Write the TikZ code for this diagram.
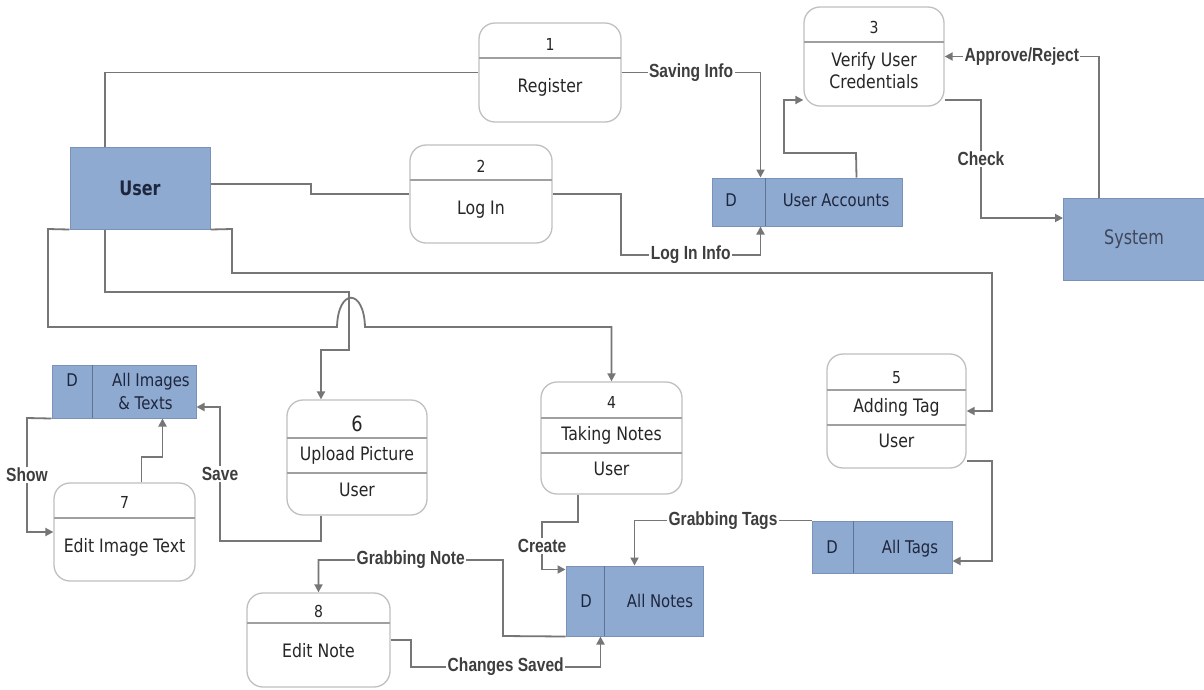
\documentclass[tikz,border=0pt]{standalone}
\usepackage{fontspec}
\usetikzlibrary{arrows.meta}
\newfontfamily\boxfont[FakeStretch=0.85]{DejaVu Sans}
\newfontfamily\entfont[FakeStretch=0.8]{DejaVu Sans}
\newfontfamily\lblfont[FakeStretch=0.82]{Liberation Sans}

\definecolor{storefill}{RGB}{143,170,208}
\definecolor{storeline}{RGB}{122,146,186}
\definecolor{storediv}{RGB}{95,115,150}
\definecolor{flowgray}{RGB}{118,118,118}
\definecolor{procline}{RGB}{192,192,192}
\definecolor{divgray}{RGB}{160,160,160}
\definecolor{txt}{RGB}{38,38,38}
\definecolor{lbltxt}{RGB}{62,62,62}
\definecolor{storetxt}{RGB}{30,38,62}

\tikzset{
  proc/.style={draw=procline, line width=1.3pt, fill=white, rounded corners=16pt, inner sep=0pt},
  store/.style={draw=storeline, line width=1pt, fill=storefill, inner sep=0pt},
  pdiv/.style={draw=divgray, line width=1.3pt},
  sdiv/.style={draw=storediv, line width=0.8pt},
  ptxt/.style={font=\boxfont\fontsize{18.5}{21}\selectfont, text=txt, inner sep=0pt, text height=13.5pt, text depth=4pt},
  pnum/.style={font=\boxfont\fontsize{16.5}{19}\selectfont, text=txt, inner sep=0pt, text height=12pt, text depth=0pt},
  stxt/.style={font=\boxfont\fontsize{17.5}{20}\selectfont, text=storetxt, inner sep=0pt, text height=12.5pt, text depth=3.5pt},
  lbl/.style={font=\lblfont\bfseries\fontsize{19}{21}\selectfont, text=lbltxt, fill=white, inner sep=1.5pt},
  conn/.style={draw=flowgray, line width=1.8pt},
  flow/.style={conn, -{Triangle[length=8pt,width=8pt]}},
}

\begin{document}
\begin{tikzpicture}[x=1pt, y=-1pt]
\useasboundingbox (0,0) rectangle (1204,689);
\fill[white] (0,0) rectangle (1204,689);

% external entities
\node[store, minimum width=140pt, minimum height=82pt,
      font=\entfont\bfseries\fontsize{20}{22}\selectfont, text=storetxt] (user) at (140,188) {User};
\node[store, minimum width=141pt, minimum height=82pt,
      font=\entfont\fontsize{20}{22}\selectfont, text=storetxt!85!white] (sys) at (1134,239) {System};

% processes
\node[proc, minimum width=142pt, minimum height=99pt] (p1) at (550,72.5) {};
\draw[pdiv] (479,58) -- (621,58);
\node[pnum] (p1n) at (550,44) {1};
\node[ptxt] (p1t) at (550,88) {Register};

\node[proc, minimum width=142pt, minimum height=98pt] (p2) at (481,194) {};
\draw[pdiv] (410,180) -- (552,180);
\node[pnum] (p2n) at (481,166) {2};
\node[ptxt] (p2t) at (481,210) {Log In};

\node[proc, minimum width=140pt, minimum height=99pt] (p3) at (874,56.5) {};
\draw[pdiv] (804,42) -- (944,42);
\node[pnum] (p3n) at (874,27) {3};
\node[ptxt] (p3t) at (874,62) {Verify User};
\node[ptxt] (p3u) at (874,84) {Credentials};

\node[proc, minimum width=141pt, minimum height=112pt] (p4) at (611.5,438) {};
\draw[pdiv] (541,418) -- (682,418);
\draw[pdiv] (541,453) -- (682,453);
\node[pnum] (p4n) at (611.5,402) {4};
\node[ptxt] (p4t) at (611.5,436) {Taking Notes};
\node[ptxt] (p4u) at (611.5,471) {User};

\node[proc, minimum width=139pt, minimum height=114pt] (p5) at (896.5,411) {};
\draw[pdiv] (827,390) -- (966,390);
\draw[pdiv] (827,425) -- (966,425);
\node[pnum] (p5n) at (896.5,377) {5};
\node[ptxt] (p5t) at (896.5,408) {Adding Tag};
\node[ptxt] (p5u) at (896.5,443) {User};

\node[proc, minimum width=140pt, minimum height=115pt] (p6) at (357,457.5) {};
\draw[pdiv] (287,438) -- (427,438);
\draw[pdiv] (287,473) -- (427,473);
\node[pnum, font=\boxfont\fontsize{21}{23}\selectfont, text height=15pt] (p6n) at (357,424) {6};
\node[ptxt] (p6t) at (357,456) {Upload Picture};
\node[ptxt] (p6u) at (357,492) {User};

\node[proc, minimum width=141pt, minimum height=98pt] (p7) at (124.5,532) {};
\draw[pdiv] (54,518) -- (195,518);
\node[pnum] (p7n) at (124.5,502) {7};
\node[ptxt] (p7t) at (124.5,548) {Edit Image Text};

\node[proc, minimum width=143pt, minimum height=94pt] (p8) at (318.5,640) {};
\draw[pdiv] (247,623) -- (390,623);
\node[pnum] (p8n) at (318.5,611) {8};
\node[ptxt] (p8t) at (318.5,653) {Edit Note};

% data stores
\node[store, minimum width=190pt, minimum height=48pt] (ua) at (807,202) {};
\draw[sdiv] (765,178) -- (765,226);
\node[stxt] (uad) at (731,202) {D};
\node[stxt] (uat) at (836,202) {User Accounts};

\node[store, minimum width=144pt, minimum height=53pt] (ai) at (124,391.5) {};
\draw[sdiv] (92,365) -- (92,418);
\node[stxt] (aid) at (72,382) {D};
\node[stxt] (ait) at (151,382) {All Images};
\node[stxt] (aiu) at (145.5,405) {\& Texts};

\node[store, minimum width=137pt, minimum height=70pt] (an) at (634.5,601) {};
\draw[sdiv] (604,566) -- (604,636);
\node[stxt] (and) at (586,603) {D};
\node[stxt] (ant) at (660,603) {All Notes};

\node[store, minimum width=140pt, minimum height=52pt] (at) at (882,547) {};
\draw[sdiv] (853,521) -- (853,573);
\node[stxt] (atd) at (832,549) {D};
\node[stxt] (att) at (910,549) {All Tags};

% flows
\draw[conn] ([xshift=-35pt]user.north) |- (p1.west);
\draw[conn] ([yshift=4pt]user.east) -- (311,184) |- (p2.west);

\draw[flow] (p1.east) -| node[lbl, pos=0.25] {Saving Info} ([xshift=49pt]ua.north west);
\draw[flow] (p2.east) -| (621,255) -| node[lbl, pos=0.25] {Log In Info} ([xshift=49pt]ua.south west);

\draw[flow] ([xshift=-46pt]ua.north east) -- (856,153) -- (784,153) |- ([yshift=-43.5pt]p3.west);
\draw[flow] ([yshift=-43.5pt]p3.east) -- (981,100) -- node[lbl] {Check} (981,218) -- ([yshift=21pt]sys.west);
\draw[flow] ([xshift=-35pt]sys.north) |- node[lbl, pos=0.75] {Approve/Reject} (p3.east);

% flows leaving the bottom of the user entity
\draw[flow] ([xshift=-35pt]user.south) -- (105,292) -- (349,292) -- (349,350) -| ([xshift=-36pt]p6.north);
\draw[flow] (user.south west) -- (48,229) -- (48,327) -- (337,327)
  .. controls (338,288) and (364,288) .. (365,327) -| (p4.north);
\draw[flow] (user.south east) -- (232,229) -- (232,273) -- (992,273) |- (p5.east);

\draw[flow] ([xshift=-36pt]p6.south) -- (321,541) -- (220,541) -- node[lbl] {Save} (220,407) -- ([yshift=-15.5pt]ai.east);
\draw[flow] ([xshift=17pt]p7.north) -- (141.5,457) -| ([xshift=-34pt]ai.south east);
\draw[flow] (ai.south west) -- (27,418) |- node[lbl, pos=0.25] {Show} (p7.west);

\draw[flow] ([xshift=-33.5pt]p4.south) -- (578,522) -- (542,522) |- node[lbl, pos=0.25] {Create} ([yshift=-4pt]an.north west);
\draw[flow] (at.north west) -| node[lbl, pos=0.25] {Grabbing Tags} ([xshift=69pt]an.north west);
\draw[flow] ([yshift=-50pt]p5.east) -- (992,461) |- ([yshift=-14pt]at.east);

\draw[flow] (an.south west) -- (503,636) -- (503,560) -| node[lbl, pos=0.25] {Grabbing Note} (p8.north);
\draw[flow] (p8.east) -- (411,640) -- (411,667) -| node[lbl, pos=0.25] {Changes Saved} ([xshift=35pt]an.south west);
\end{tikzpicture}
\end{document}
